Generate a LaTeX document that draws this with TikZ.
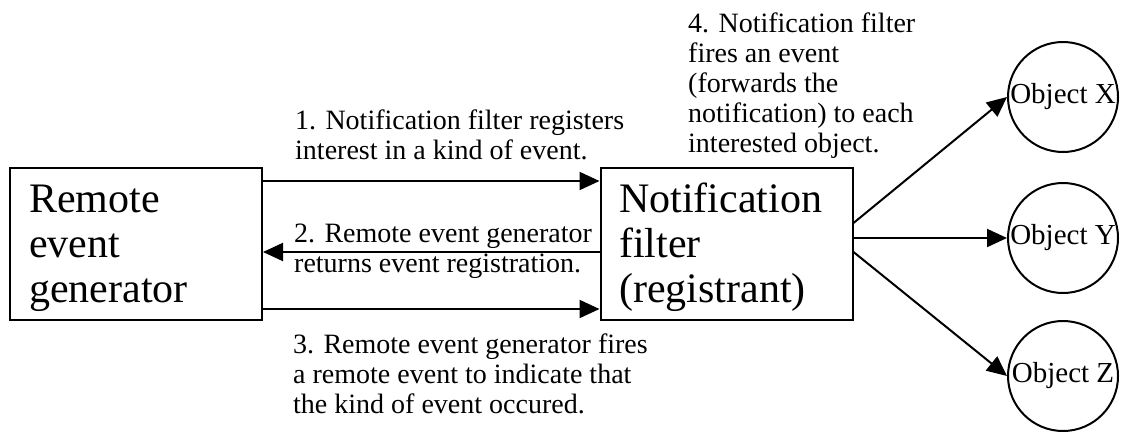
\documentclass[tikz,border=0pt]{standalone}
\usepackage{fontspec}
\setmainfont{Liberation Serif}
\usetikzlibrary{arrows.meta}

\tikzset{
  bigbox/.style={draw, line width=2pt, minimum width=252pt, minimum height=152pt,
    inner sep=0pt},
  boxtext/.style={anchor=base west, align=left, inner sep=0pt, font=\fontsize{42}{45}\selectfont},
  objnode/.style={draw, circle, line width=2pt, minimum size=110pt, inner sep=0pt,
    font=\fontsize{29}{30}\selectfont},
  msg/.style={anchor=base west, align=left, inner sep=0pt, font=\fontsize{28}{30}\selectfont},
  arr/.style={line width=2pt, -{Triangle[length=20pt,width=18pt]}}
}

\begin{document}
\begin{tikzpicture}[x=1pt, y=-1pt]
  \useasboundingbox (0,0) rectangle (1123,434);
  \node[bigbox] (rg) at (136,244) {};
  \node[boxtext] (rgtext) at (29,302) {Remote\\event\\generator};
  \node[bigbox] (nf) at (726.5,244) {};
  \node[boxtext] (nftext) at (619,302) {Notification\\filter\\(registrant)};
  \node[objnode] (objx) at (1063,97) {Object X};
  \node[objnode] (objy) at (1063,238) {Object Y};
  \node[objnode] (objz) at (1063,376) {Object Z};
  % messages between generator and filter
  \draw[arr] ([yshift=-14pt]rg.north east) -- ([yshift=-14pt]nf.north west);
  \draw[arr] ([yshift=-8pt]nf.west) -- ([yshift=-8pt]rg.east);
  \draw[arr] ([yshift=12pt]rg.south east) -- ([yshift=12pt]nf.south west);
  % filter forwards to objects
  \draw[arr] ([yshift=21pt]nf.east) -- (objx.west);
  \draw[arr] ([yshift=6pt]nf.east) -- (objy.west);
  \draw[arr] ([yshift=-8pt]nf.east) -- (objz.west);
  \node[msg] (msgone) at (295,159) {1. Notification filter registers\\interest in a kind of event.};
  \node[msg] (msgtwo) at (294,272) {2. Remote event generator\\returns event registration.};
  \node[msg] (msgthree) at (293,413) {3. Remote event generator fires\\a remote event to indicate that\\the kind of event occured.};
  \node[msg] (msgfour) at (688,152) {4. Notification filter\\fires an event\\(forwards the\\notification) to each\\interested object.};
\end{tikzpicture}
\end{document}
